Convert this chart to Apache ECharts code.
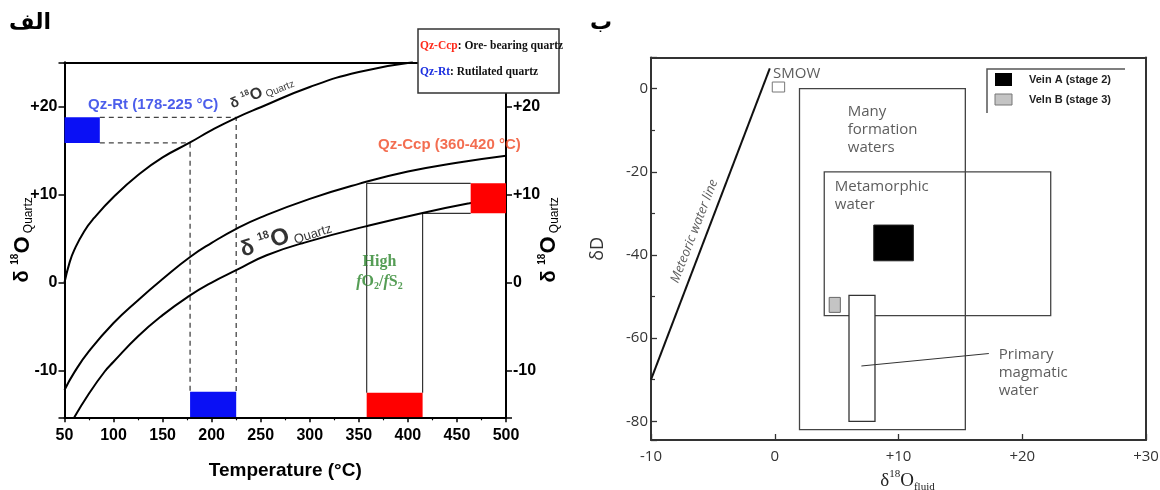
<!DOCTYPE html>
<html><head><meta charset="utf-8">
<script src="https://cdn.jsdelivr.net/npm/echarts@6/dist/echarts.min.js"></script>
<style>html,body{margin:0;padding:0;background:#fff}#c{width:1160px;height:490px}</style>
</head><body><div id="c"></div>
<script>
const F = "'Liberation Sans Narrow','Liberation Sans',Arial,sans-serif";
const S = "'Liberation Sans',Arial,sans-serif";
const SERIF = "'Liberation Serif','Times New Roman',serif";
const R = "'Open Sans','Liberation Sans',sans-serif";

// ---------- Left panel: δ18O quartz vs temperature ----------
const upperT = [50,55,60,70,80,100,125,150,178,200,225,250,300,350,405];
const upperD = [0,2.2,3.7,5.8,7.3,9.7,12.2,14.2,15.9,17.3,18.7,19.9,22.2,23.9,25];
const midT = [50,60,75,100,125,150,178,200,225,250,300,350,400,450,500];
const midD = [-12.2,-10.2,-7.8,-4.6,-2.0,0.4,2.9,4.5,6.1,7.4,9.5,11.2,12.6,13.6,14.4];
const lowT = [60,75,91,100,125,150,176,200,225,256,300,358,415,463,500];
const lowD = [-15.3,-12.6,-10.1,-9.0,-6.1,-3.7,-1.6,0.0,1.4,3.1,4.7,6.4,7.9,9.0,9.7];
// boxes: [Tmin, Tmax, δmin, δmax]
const blueBoxes = [[50,86,15.85,18.75],[178,225,-15.3,-12.4]];
const redBoxes = [[464,500,7.85,11.26],[358,415,-15.3,-12.5]];
const dashedGuides = [[[86,18.75],[225,18.75],[225,-12.4]],[[86,15.85],[178,15.85],[178,-12.4]]];
const solidGuides = [[[358,-12.5],[358,11.26],[464,11.26]],[[415,-12.5],[415,7.85],[464,7.85]]];
const leftYRange = [-15.3, 25];
const tempRange = [50, 500];

// ---------- Right panel: δD vs δ18O fluid ----------
const meteoricLine = [[-10,-70],[-0.4,4.9]];
const waterBoxes = [[2,15.4,-82,0],[4,22.3,-54.6,-20],[6,8.1,-80,-49.7]]; // formation, metamorphic, magmatic
const veinA = [[8.0,11.2,-41.4,-32.8]];
const veinB = [[4.4,5.3,-53.8,-50.2]];
const smowBox = [[-0.2,0.8,-0.8,1.6]];
const arrowFrom = [17.3,-63.7];
const arrowTo = [7.0,-66.7];
const rightXRange = [-10, 30];
const rightYRange = [-84.5, 7.5];

const zip = (a, b) => a.map((v, i) => [v, b[i]]);
const sign = v => v > 0 ? '+' + v : String(v);

function rectRender(styleFor) {
  return function (params, api) {
    const a = api.coord([api.value(0), api.value(3)]);
    const b = api.coord([api.value(1), api.value(2)]);
    return { type: 'rect', shape: { x: a[0], y: a[1], width: b[0] - a[0], height: b[1] - a[1] },
      style: styleFor(params.dataIndex) };
  };
}
function rectSeries(gi, data, styleFor, z) {
  return { type: 'custom', xAxisIndex: gi * 2, yAxisIndex: gi * 2, data: data, z: z || 3,
    renderItem: rectRender(styleFor), silent: true, clip: true };
}
function polySeries(gi, pts, ls, z) {
  return { type: 'line', xAxisIndex: gi * 2, yAxisIndex: gi * 2, data: pts, symbol: 'none',
    lineStyle: ls, silent: true, z: z || 2, animation: false };
}
function note(gi, pt, label) {
  return { type: 'scatter', xAxisIndex: gi * 2, yAxisIndex: gi * 2, symbolSize: 0, silent: true, z: 10,
    data: [pt], label: Object.assign({ show: true, position: 'inside' }, label) };
}

const quartzRich = (big, sup, sub) => ({
  d: { fontSize: big, fontWeight: 'bold', fontFamily: S, color: '#000', lineHeight: big + 4 },
  o: { fontSize: big + 2, fontWeight: 'bold', fontFamily: S, color: '#000', lineHeight: big + 4 },
  s: { fontSize: sup, fontWeight: 'bold', fontFamily: S, color: '#000', verticalAlign: 'top', lineHeight: big + 4 },
  q: { fontSize: sub, fontFamily: S, color: '#000', verticalAlign: 'bottom', lineHeight: big + 4 }
});
const quartzText = '{d|δ }{s|18}{o|O}{q| Quartz}';

const leftLabel = { fontSize: 16, fontWeight: 'bold', fontFamily: F, color: '#000' };
const rightLabel = { fontSize: 15, fontFamily: R, color: '#333' };

const series = [];
// curves
[[upperT, upperD], [midT, midD], [lowT, lowD]].forEach(c => {
  series.push({ type: 'line', xAxisIndex: 0, yAxisIndex: 0, data: zip(c[0], c[1]), symbol: 'none',
    smooth: true, lineStyle: { color: '#000', width: 2 }, silent: true, z: 4, clip: true });
});
dashedGuides.forEach(p => series.push(polySeries(0, p, { color: '#444', width: 1.3, type: [5, 4] })));
solidGuides.forEach(p => series.push(polySeries(0, p, { color: '#333', width: 1.2 })));
series.push(rectSeries(0, blueBoxes, () => ({ fill: '#0a10f5' }), 5));
series.push(rectSeries(0, redBoxes, () => ({ fill: '#ff0000' }), 5));
// left annotations
series.push(note(0, [74, 20.2], { formatter: 'Qz-Rt (178-225 °C)', align: 'left', verticalAlign: 'middle', position: [0, 0],
  fontSize: 15, fontWeight: 'bold', fontFamily: F, color: '#1f36e6' }));
series.push(note(0, [369.6, 15.6], { formatter: 'Qz-Ccp (360-420 °C)', align: 'left', verticalAlign: 'middle', position: [0, 0],
  fontSize: 15, fontWeight: 'bold', fontFamily: F, color: '#f04a25' }));
series.push(note(0, [371, 2.36], { formatter: 'High', fontSize: 16, fontWeight: 'bold', fontFamily: SERIF, color: '#2a852a' }));
series.push(note(0, [371, 0.1], { formatter: '{i|f}{n|O}{b|2}{n|/}{i|f}{n|S}{b|2}',
  rich: { i: { fontSize: 16, fontStyle: 'italic', fontWeight: 'bold', fontFamily: SERIF, color: '#2a852a', lineHeight: 20 },
          n: { fontSize: 16, fontWeight: 'bold', fontFamily: SERIF, color: '#2a852a', lineHeight: 20 },
          b: { fontSize: 10, fontWeight: 'bold', fontFamily: SERIF, color: '#2a852a', verticalAlign: 'bottom', lineHeight: 20 } } }));
series.push(note(0, [251, 21.6], { formatter: quartzText, rotate: 22, rich: quartzRich(14, 8, 10) }));
series.push(note(0, [275, 5.2], { formatter: quartzText, rotate: 18, rich: quartzRich(22, 11, 13) }));

// right panel
series.push(polySeries(1, meteoricLine, { color: '#111', width: 2 }, 4));
const boxStyles = [{ fill: 'none', stroke: '#444', lineWidth: 1.3 }, { fill: 'none', stroke: '#444', lineWidth: 1.3 },
  { fill: '#fff', stroke: '#333', lineWidth: 1.3 }];
series.push(rectSeries(1, waterBoxes, i => boxStyles[i], 3));
series.push(rectSeries(1, veinA, () => ({ fill: '#000', stroke: '#222', lineWidth: 1 }), 5));
series.push(rectSeries(1, veinB, () => ({ fill: '#c4c4c4', stroke: '#666', lineWidth: 1 }), 5));
series.push(rectSeries(1, smowBox, () => ({ fill: '#fff', stroke: '#777', lineWidth: 1 }), 5));
series.push({ type: 'line', xAxisIndex: 2, yAxisIndex: 2, data: [], silent: true, z: 6,
  markLine: { silent: true, symbol: ['none', 'arrow'], symbolSize: [0, 7], animation: false,
    lineStyle: { color: '#333', width: 1, type: 'solid' }, label: { show: false },
    data: [[{ coord: arrowFrom }, { coord: arrowTo }]] } });
series.push(note(1, [-0.14, 3.66], { formatter: 'SMOW', align: 'left', verticalAlign: 'middle', position: [0, 0],
  fontSize: 15, fontFamily: R, color: '#333' }));
series.push(note(1, [5.9, -3.5], { formatter: 'Many\nformation\nwaters', align: 'left', verticalAlign: 'top', position: [0, 0],
  fontSize: 15, lineHeight: 18, fontFamily: R, color: '#333' }));
series.push(note(1, [4.85, -21.3], { formatter: 'Metamorphic\nwater', align: 'left', verticalAlign: 'top', position: [0, 0],
  fontSize: 15, lineHeight: 18, fontFamily: R, color: '#333' }));
series.push(note(1, [18.1, -61.9], { formatter: 'Primary\nmagmatic\nwater', align: 'left', verticalAlign: 'top', position: [0, 0],
  fontSize: 15, lineHeight: 18, fontFamily: R, color: '#333' }));
series.push(note(1, [-6.5, -34.3], { formatter: 'Meteoric water line', rotate: 68.9, fontSize: 13, fontStyle: 'italic',
  fontFamily: R, color: '#333' }));

const axisLineL = { show: true, onZero: false, lineStyle: { color: '#000', width: 2 } };
const axisLineR = { show: true, onZero: false, lineStyle: { color: '#333', width: 2 } };

const option = {
  backgroundColor: '#fff',
  animation: false,
  grid: [
    { left: 64.5, right: 654, top: 62.3, bottom: 72.7, outerBoundsMode: 'none', containLabel: false },
    { left: 651, right: 14, top: 57.5, bottom: 50, outerBoundsMode: 'none', containLabel: false }
  ],
  xAxis: [
    { gridIndex: 0, type: 'value', min: tempRange[0], max: tempRange[1], interval: 50, axisLine: axisLineL,
      axisTick: { length: 5, lineStyle: { color: '#000', width: 1.5 } },
      minorTick: { show: true, splitNumber: 2, length: 3, lineStyle: { color: '#000', width: 1.2 } },
      splitLine: { show: false }, axisLabel: Object.assign({ margin: 10 }, leftLabel),
      name: 'Temperature (°C)', nameLocation: 'middle', nameGap: 44,
      nameTextStyle: { fontSize: 19, fontWeight: 'bold', fontFamily: F, color: '#000' } },
    { gridIndex: 0, type: 'value', position: 'top', min: tempRange[0], max: tempRange[1], axisLine: axisLineL,
      axisTick: { show: false }, axisLabel: { show: false }, splitLine: { show: false } },
    { gridIndex: 1, type: 'value', min: rightXRange[0], max: rightXRange[1], interval: 10, axisLine: axisLineR,
      axisTick: { inside: true, length: 6, lineStyle: { color: '#333', width: 1.3 } },
      splitLine: { show: false }, axisLabel: Object.assign({ margin: 9, formatter: sign }, rightLabel),
      name: '{d|δ}{s|18}{o|O}{f|fluid}', nameLocation: 'middle', nameGap: 28,
      nameTextStyle: { padding: [0, 0, 0, 18], rich: {
        d: { fontSize: 19, fontFamily: SERIF, color: '#222', lineHeight: 24 },
        o: { fontSize: 19, fontFamily: SERIF, color: '#222', lineHeight: 24 },
        s: { fontSize: 11, fontFamily: SERIF, color: '#222', verticalAlign: 'top', lineHeight: 24 },
        f: { fontSize: 11, fontFamily: SERIF, color: '#222', verticalAlign: 'bottom', lineHeight: 24 } } } },
    { gridIndex: 1, type: 'value', position: 'top', min: rightXRange[0], max: rightXRange[1], axisLine: axisLineR,
      axisTick: { show: false }, axisLabel: { show: false }, splitLine: { show: false } }
  ],
  yAxis: [
    { gridIndex: 0, type: 'value', min: leftYRange[0], max: leftYRange[1], axisLine: axisLineL,
      axisTick: { length: 6, lineStyle: { color: '#000', width: 1.5 } }, splitLine: { show: false },
      axisLabel: Object.assign({ margin: 7, formatter: v => (v % 10 === 0 ? sign(v) : '') }, leftLabel),
      name: quartzText, nameLocation: 'middle', nameRotate: 90, nameGap: 30, nameMoveOverlap: false,
      nameTextStyle: { rich: quartzRich(20, 10, 12) } },
    { gridIndex: 0, type: 'value', position: 'right', min: leftYRange[0], max: leftYRange[1], axisLine: axisLineL,
      axisTick: { length: 6, lineStyle: { color: '#000', width: 1.5 } }, splitLine: { show: false },
      axisLabel: Object.assign({ margin: 7, formatter: v => (v % 10 === 0 ? sign(v) : '') }, leftLabel),
      name: quartzText, nameLocation: 'middle', nameRotate: 90, nameGap: 31, nameMoveOverlap: false,
      nameTextStyle: { rich: quartzRich(20, 10, 12) } },
    { gridIndex: 1, type: 'value', min: rightYRange[0], max: rightYRange[1], axisLine: axisLineR,
      axisTick: { inside: true, length: 6, lineStyle: { color: '#333', width: 1.3 } },
      minorTick: { show: true, splitNumber: 2, length: 4, lineStyle: { color: '#333', width: 1.2 } },
      splitLine: { show: false },
      axisLabel: Object.assign({ margin: 3, formatter: v => (v % 20 === 0 ? String(v) : '') }, rightLabel),
      name: 'δD', nameLocation: 'middle', nameRotate: 90, nameGap: 44,
      nameTextStyle: { fontSize: 18, fontFamily: R, color: '#333' } },
    { gridIndex: 1, type: 'value', position: 'right', min: rightYRange[0], max: rightYRange[1], axisLine: axisLineR,
      axisTick: { show: false }, axisLabel: { show: false }, splitLine: { show: false } }
  ],
  series: series,
  graphic: [
    { type: 'text', left: 9, top: 12, z: 100, style: { text: 'الف', font: 'bold 22px "DejaVu Sans"', fill: '#000' } },
    { type: 'text', left: 590, top: 12, z: 100, style: { text: 'ب', font: 'bold 22px "DejaVu Sans"', fill: '#000' } },
    { type: 'rect', z: 100, shape: { x: 418, y: 29, width: 141, height: 64 },
      style: { fill: '#fff', stroke: '#333', lineWidth: 1.5 } },
    { type: 'text', z: 101, x: 420, y: 46, style: { text: '{r|Qz-Ccp}{k|: Ore- bearing quartz}', verticalAlign: 'middle',
      rich: { r: { font: 'bold 11.5px ' + SERIF, fill: '#ff2a1a' }, k: { font: 'bold 11.5px ' + SERIF, fill: '#111' } } } },
    { type: 'text', z: 101, x: 420, y: 72, style: { text: '{b|Qz-Rt}{k|: Rutilated quartz}', verticalAlign: 'middle',
      rich: { b: { font: 'bold 11.5px ' + SERIF, fill: '#1a2ee0' }, k: { font: 'bold 11.5px ' + SERIF, fill: '#111' } } } },
    { type: 'polyline', z: 100, shape: { points: [[1125, 69], [987, 69], [987, 113]] },
      style: { fill: 'none', stroke: '#555', lineWidth: 1.5 } },
    { type: 'rect', z: 100, shape: { x: 995, y: 73, width: 17, height: 13 }, style: { fill: '#000' } },
    { type: 'rect', z: 100, shape: { x: 995, y: 94, width: 17, height: 11 }, style: { fill: '#c4c4c4', stroke: '#777', lineWidth: 1 } },
    { type: 'text', z: 100, x: 1029, y: 80, style: { text: 'Vein A (stage 2)', verticalAlign: 'middle', font: 'bold 11px ' + S, fill: '#222' } },
    { type: 'text', z: 100, x: 1029, y: 99.5, style: { text: 'Veln B (stage 3)', verticalAlign: 'middle', font: 'bold 11px ' + S, fill: '#222' } }
  ]
};
const chart = echarts.init(document.getElementById('c'), null, { renderer: 'canvas' });
chart.setOption(option);
</script></body></html>
